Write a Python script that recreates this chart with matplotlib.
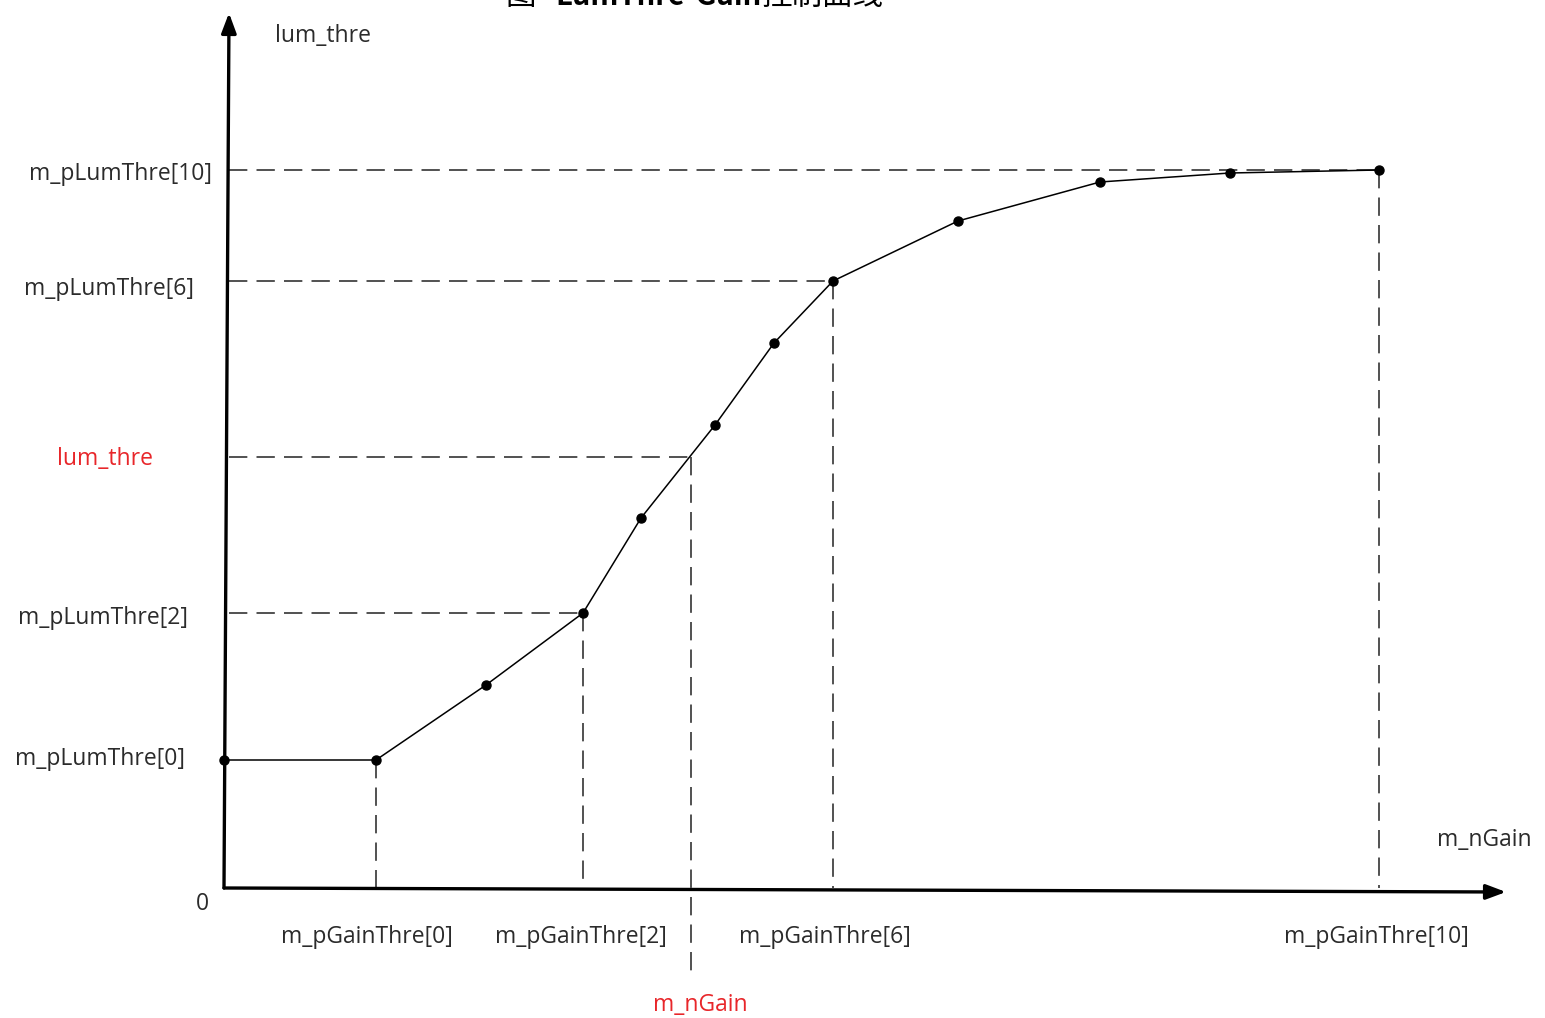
import numpy as np
import matplotlib.pyplot as plt

# curve points: gain -> lum_thre (origin point, then m_pGainThre[0..10])
gain = [0, 152, 262, 359, 417, 491, 550, 609, 734, 876, 1006, 1155]
lum = [128, 128, 203, 275, 370, 463, 545, 607, 667, 706, 715, 718]

# labelled thresholds
lum_ticks = {'m_pLumThre[10]': 718, 'm_pLumThre[6]': 607,
             'm_pLumThre[2]': 275, 'm_pLumThre[0]': 128}
gain_ticks = {'m_pGainThre[0]': 152, 'm_pGainThre[2]': 359,
              'm_pGainThre[6]': 609, 'm_pGainThre[10]': 1155}
cur_gain = 467
cur_lum = 431

txt = '#2b2b2b'
red = '#e8262a'

plt.rcParams['font.family'] = ['Open Sans', 'DejaVu Sans']

fig = plt.figure(figsize=(15.45, 10.18), dpi=100)
ax = fig.add_axes([0, 0, 1, 1])
ax.set_xlim(-224, 1321)
ax.set_ylim(-130, 888)
ax.axis('off')

# axes with arrows
ax.annotate('', xy=(5, 875), xytext=(0, 0),
            arrowprops=dict(arrowstyle='-|>,head_length=1.2,head_width=0.45',
                            lw=2.4, color='black', shrinkA=0, shrinkB=0))
ax.annotate('', xy=(1282, -4), xytext=(0, 0),
            arrowprops=dict(arrowstyle='-|>,head_length=1.2,head_width=0.45',
                            lw=2.4, color='black', shrinkA=0, shrinkB=0))

dash = dict(color='#222222', lw=1.1, ls=(0, (12, 6)))
# horizontal guides
for name, v in lum_ticks.items():
    if name == 'm_pLumThre[0]':
        continue
    gx = gain[lum.index(v)] if v != 718 else gain[-1]
    ax.plot([5, gx], [v, v], **dash)
ax.plot([5, cur_gain], [cur_lum, cur_lum], **dash)
# vertical guides
for name, g in gain_ticks.items():
    ax.plot([g, g], [lum[gain.index(g)], 0], **dash)
ax.plot([cur_gain, cur_gain], [cur_lum, -84], **dash)

# curve
ax.plot(gain, lum, color='black', lw=1.1, marker='o', ms=6.5, zorder=5)

fs = 16.5
lum_pos = {'m_pLumThre[10]': (-12, -4), 'm_pLumThre[6]': (-30, -8),
           'm_pLumThre[2]': (-36, -5), 'm_pLumThre[0]': (-39, 1)}
for name, v in lum_ticks.items():
    xr, dy = lum_pos[name]
    ax.text(xr, v + dy, name, ha='right', va='center', fontsize=fs, color=txt)
ax.text(-71, cur_lum - 2, 'lum_thre', ha='right', va='center', fontsize=fs, color=red)
for name, g in gain_ticks.items():
    xc = {'m_pGainThre[0]': 143, 'm_pGainThre[2]': 357,
          'm_pGainThre[6]': 601, 'm_pGainThre[10]': 1152}[name]
    ax.text(xc, -49, name, ha='center', va='center', fontsize=fs, color=txt)
ax.text(476, -117, 'm_nGain', ha='center', va='center', fontsize=fs, color=red)
ax.text(-22, -16, '0', ha='center', va='center', fontsize=fs, color=txt)
ax.text(1260, 48, 'm_nGain', ha='center', va='center', fontsize=fs, color=txt)
ax.text(51, 852, 'lum_thre', ha='left', va='center', fontsize=fs, color=txt)

# title, mostly cut off at the top
cjk = ['Noto Sans CJK SC', 'DejaVu Sans']
ax.text(281, 883, '图', ha='left', va='baseline', fontsize=22, family=cjk, color='black')
ax.text(331, 883, 'LumThre-Gain', ha='left', va='baseline', fontsize=21,
        family=cjk, weight='bold', color='black')
ax.text(538, 883, '控制曲线', ha='left', va='baseline', fontsize=22, family=cjk, color='black')

fig.savefig('out.png', dpi=100)
